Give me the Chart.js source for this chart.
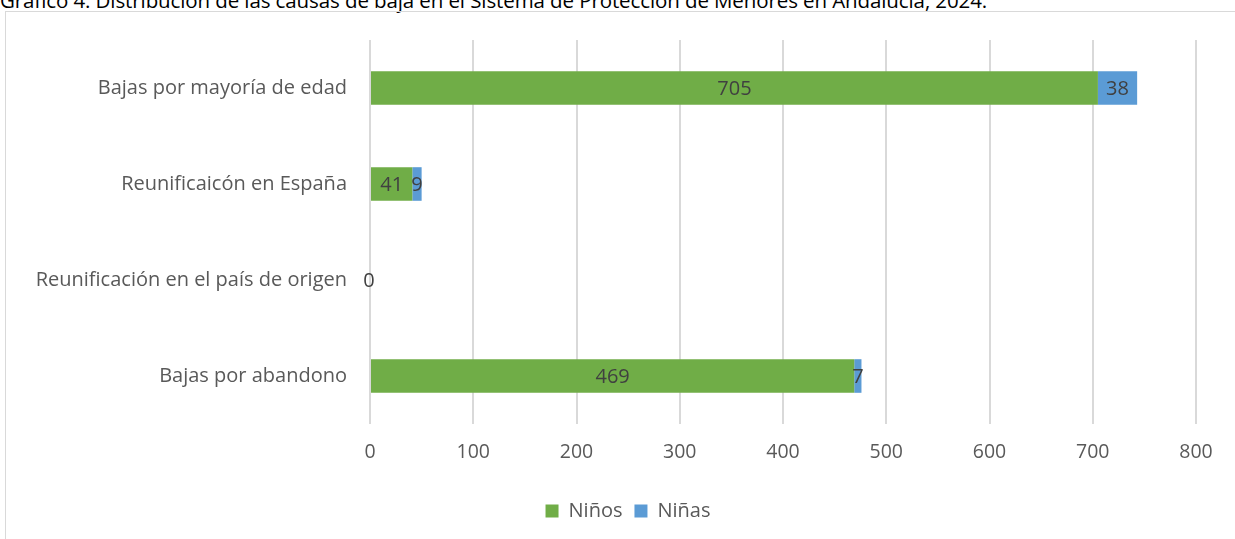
<!DOCTYPE html>
<html>
<head>
<meta charset="utf-8">
<script src="https://cdn.jsdelivr.net/npm/chart.js@4"></script>
<style>
  body { margin:0; background:#fff; width:1235px; height:539px; overflow:hidden; position:relative; font-family:"Open Sans", sans-serif; }
  #title { position:absolute; left:0; top:-14px; font-size:20.5px; color:#000; white-space:nowrap; letter-spacing:-0.1px; }
  #box { position:absolute; left:5px; top:11px; width:1232px; height:530px; border:1px solid #d9d9d9; box-sizing:border-box; }
  #wrap { position:absolute; left:0; top:0; width:1235px; height:539px; }
</style>
</head>
<body>
<div id="title">Gráfico 4. Distribución de las causas de baja en el Sistema de Protección de Menores en Andalucía, 2024.</div>
<div id="box"></div>
<div id="wrap"><canvas id="myChart"></canvas></div>
<script>
const categories = ['Bajas por mayoría de edad', 'Reunificaicón en España', 'Reunificación en el país de origen', 'Bajas por abandono'];
const ninos = [705, 41, 0, 469];
const ninas = [38, 9, null, 7];
const xTicks = [0, 100, 200, 300, 400, 500, 600, 700, 800];

const valueLabels = {
    id: 'valueLabels',
    afterDatasetsDraw(chart) {
        const ctx = chart.ctx;
        ctx.save();
        ctx.font = '20px "Open Sans", sans-serif';
        ctx.fillStyle = '#404040';
        ctx.textAlign = 'center';
        ctx.textBaseline = 'middle';
        chart.data.datasets.forEach((ds, i) => {
            chart.getDatasetMeta(i).data.forEach((bar, j) => {
                const v = ds.data[j];
                if (v === null || v === undefined) return;
                const x = (bar.x + bar.base) / 2;
                ctx.fillText(String(v), v === 0 ? x - 1 : x, bar.y + 1);
            });
        });
        ctx.restore();
    }
};

// the legend sits a bit right of the canvas centre in the original
const shiftLegend = {
    id: 'shiftLegend',
    afterLayout(chart) {
        if (chart.legend) { chart.legend.left = 60; }
    }
};

const renderChart = () => {
    var ctx = document.getElementById('myChart').getContext('2d');
    new Chart(ctx, {
        type: 'bar',
        data: {
            labels: categories,
            datasets: [
                { label: 'Niños', data: ninos, backgroundColor: '#70ad47', barPercentage: 0.7, categoryPercentage: 0.5 },
                { label: 'Niñas', data: ninas, backgroundColor: '#5b9bd5', barPercentage: 0.7, categoryPercentage: 0.5 }
            ]
        },
        options: {
            indexAxis: 'y',
            responsive: true,
            maintainAspectRatio: false,
            animation: false,
            layout: { padding: { top: 40, right: 39, left: 0, bottom: 8 } },
            scales: {
                x: {
                    stacked: true,
                    min: 0, max: 800,
                    afterBuildTicks: (s) => { s.ticks = xTicks.map(v => ({ value: v })); },
                    grid: { color: '#d9d9d9', lineWidth: 2, drawTicks: false },
                    border: { display: false },
                    ticks: { color: '#595959', font: { size: 19.5, family: '"Open Sans", sans-serif' }, padding: 17 },
                    afterFit: (s) => { s.height = 65; }
                },
                y: {
                    stacked: true,
                    grid: { display: false },
                    border: { display: false },
                    ticks: { color: '#595959', font: { size: 20, family: '"Open Sans", sans-serif' }, padding: 15 },
                    afterFit: (s) => { s.width = 370; }
                }
            },
            plugins: {
                legend: {
                    position: 'bottom',
                    labels: { boxWidth: 13, boxHeight: 13, color: '#595959', font: { size: 20, family: '"Open Sans", sans-serif' }, padding: 12 }
                },
                tooltip: { enabled: false }
            }
        },
        plugins: [valueLabels, shiftLegend]
    });
};

renderChart();
</script>
</body>
</html>
